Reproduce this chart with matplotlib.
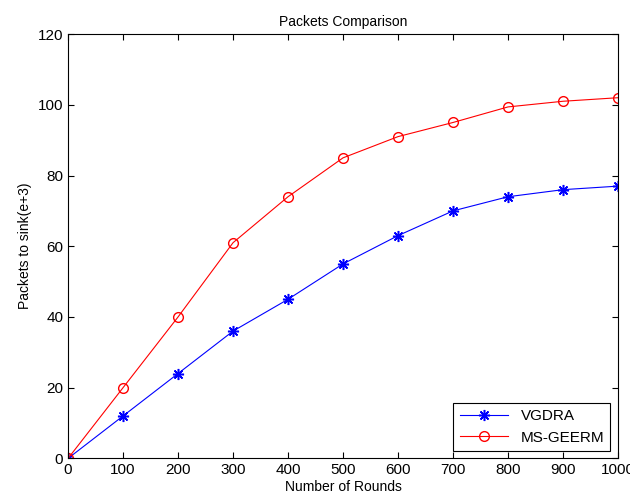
import matplotlib
matplotlib.use("Agg")
import matplotlib.pyplot as plt

plt.rcParams["font.family"] = ["Liberation Sans", "DejaVu Sans"]

rounds = [0, 100, 200, 300, 400, 500, 600, 700, 800, 900, 1000]
vgdra = [0, 12, 24, 36, 45, 55, 63, 70, 74, 76, 77]
ms_geerm = [0, 20, 40, 61, 74, 85, 91, 95, 99.4, 101, 102]

fig = plt.figure(figsize=(6.30, 5.01), dpi=100)
ax = fig.add_axes([0.108, 0.085, 0.873, 0.847])

# asterisk marker like MATLAB's '*' (plus and cross combined)
ax.plot(rounds, vgdra, color="blue", marker=(8, 2, 0), markersize=8, markeredgewidth=1.1,
        linewidth=0.8, label="VGDRA")
ax.plot(rounds, ms_geerm, color="red", marker="o", markersize=7, markerfacecolor="none",
        linewidth=0.8, label="MS-GEERM")

ax.set_xlim(0, 1000)
ax.set_ylim(0, 120)
ax.set_xticks(range(0, 1001, 100))
ax.set_yticks(range(0, 121, 20))
ax.tick_params(direction="in", top=True, right=True, labelsize=11, length=4)
ax.set_title("Packets Comparison", fontsize=10)
ax.set_xlabel("Number of Rounds", fontsize=10, labelpad=2)
ax.set_ylabel("Packets to sink(e+3)", fontsize=10)

leg = ax.legend(loc="lower right", fontsize=11, fancybox=False, edgecolor="black",
                framealpha=1, borderaxespad=0.5, handlelength=3.2)
leg.get_frame().set_linewidth(0.8)

fig.savefig("out.png", dpi=100)
